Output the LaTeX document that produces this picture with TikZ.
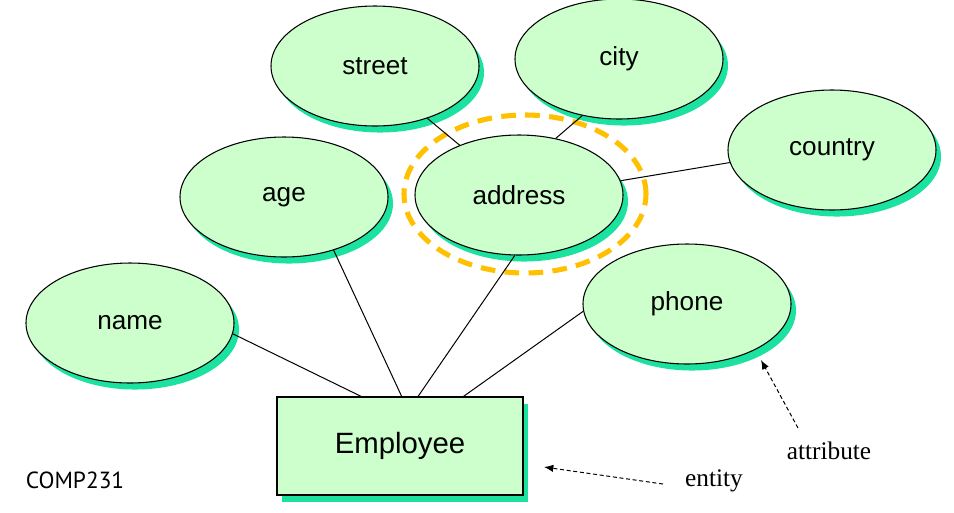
\documentclass[tikz,border=0pt]{standalone}
\usepackage{fontspec}
\setmainfont{Liberation Sans}
\newfontfamily\notefont{Liberation Serif}
\newfontfamily\coursefont{PT Sans}
\usetikzlibrary{shapes.geometric,shadows,arrows.meta}
\definecolor{attrgreen}{RGB}{204,255,204}
\definecolor{shadowgreen}{RGB}{28,226,160}
\definecolor{ringyellow}{RGB}{255,192,0}

\begin{document}
\begin{tikzpicture}[x=0.75pt,y=-0.75pt,
	greenshadow/.style={drop shadow={shadow xshift=3.75pt,shadow yshift=-4.9pt,fill=shadowgreen,opacity=1}},
	attr/.style={ellipse,draw,line width=.8pt,fill=attrgreen,greenshadow,minimum width=156pt,minimum height=90pt,inner sep=0pt,font=\fontsize{19.6}{22}\selectfont},
	entitybox/.style={rectangle,draw,line width=.8pt,fill=attrgreen,greenshadow,minimum width=184.5pt,minimum height=73.5pt,inner sep=0pt,font=\fontsize{22}{26}\selectfont},
	ring/.style={ellipse,draw=ringyellow,line width=3.8pt,dash pattern=on 11pt off 7pt,minimum width=181.5pt,minimum height=118.5pt,inner sep=0pt},
	link/.style={line width=.75pt},
	note/.style={line width=.75pt,dash pattern=on 3pt off 2pt,-{Latex[length=7pt,width=5.5pt]}},
	notetext/.style={font=\notefont\fontsize{19}{22}\selectfont}
]
	\useasboundingbox (0,0) rectangle (954,512);

	\node[ring] (addrring) at (525,194) {};

	\node[attr] (street) at (375,66) {street};
	\node[attr] (city) at (619,59) {city};
	\node[attr] (country) at (832,150) {country};
	\node[attr] (age) at (284,197) {age};
	\node[attr] (address) at (519,195) {address};
	\node[attr] (name) at (130,323) {name};
	\node[attr] (phone) at (687,304) {phone};
	\node[entitybox] (emp) at (400,446) {Employee};

	\draw[link] (street.-45) -- (address.140);
	\draw[link] (city.-123) -- (address.57);
	\draw[link] (country.187) -- (address.8);
	\draw[link] (name.-6) -- (emp.128);
	\draw[link] (age.-47) -- (emp.88);
	\draw[link] (address.-94) -- (emp.70);
	\draw[link] (phone.184) -- (emp.38);

	\node[notetext] (attrnote) at (829,451) {attribute};
	\node[notetext] (entnote) at (714,481) {entity};
	\node[font=\coursefont\fontsize{17.5}{20}\selectfont] (course) at (75,480) {COMP231};

	\coordinate (attrtail) at (798,428);
	\coordinate (attrtip) at (761,360);
	\coordinate (enttail) at (663,484);
	\coordinate (enttip) at (544,467);
	\draw[note] (attrtail) -- (attrtip);
	\draw[note] (enttail) -- (enttip);
\end{tikzpicture}
\end{document}
